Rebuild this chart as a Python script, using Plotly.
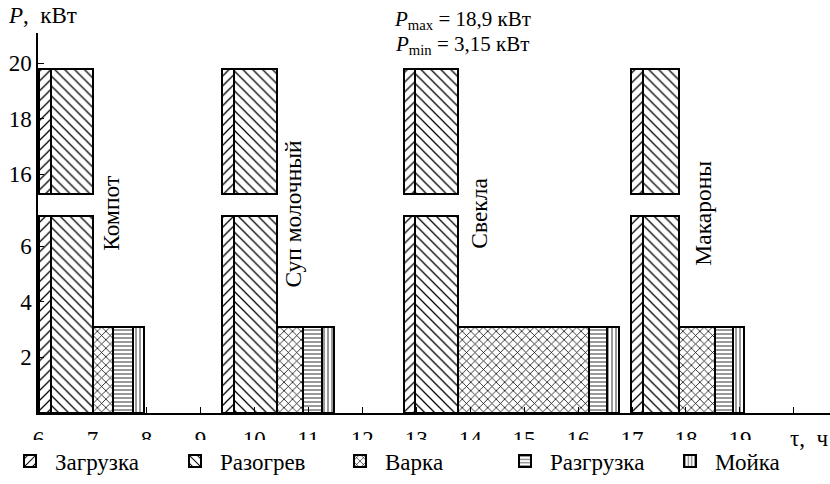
import plotly.graph_objects as go

# ---- data ----
dishes = ["Компот", "Суп молочный", "Свекла", "Макароны"]
phases = ["Загрузка", "Разогрев", "Варка", "Разгрузка", "Мойка"]
load_start = [6.0, 9.40, 12.78, 16.98]
heat_start = [6.24, 9.62, 12.98, 17.20]
cook_start = [7.01, 10.42, 13.78, 17.88]
unload_start = [7.38, 10.91, 16.21, 18.54]
wash_start = [7.75, 11.25, 16.53, 18.88]
wash_end = [7.95, 11.47, 16.75, 19.08]
phase_power = [19.8, 19.8, 3.1, 3.1, 3.1]   # kW shown for each phase
label_x = [7.33, 10.7, 14.15, 18.3]
label_y = [0.525, 0.525, 0.525, 0.525]

# broken axis: lower panel shows 0..7.52, upper 14.93..21.08
low_range = [0, 7.52]
up_range = [14.93, 21.08]
low_cut = 7.1     # where the lower part of a tall bar is cut
up_cut = 15.3     # where the upper part starts

x_ticks = list(range(6, 21))
x_ticktext = [str(v) for v in range(6, 20)] + [" "]

patterns = ["/", "\\", "x", "-", "|"]
pat_size = [7, 7, 6, 4, 4]
pat_solid = [0.18, 0.18, 0.24, 0.2, 0.2]

starts = [load_start, heat_start, cook_start, unload_start, wash_start]
ends = [heat_start, cook_start, unload_start, wash_start, wash_end]

FONT = "Liberation Serif, Times New Roman, Times, serif"
fig = go.Figure()

for i, ph in enumerate(phases):
    s = starts[i]
    e = ends[i]
    centers = [(a + b) / 2 for a, b in zip(s, e)]
    widths = [b - a for a, b in zip(s, e)]
    p = phase_power[i]
    pattern = dict(shape=patterns[i], fgcolor="black", bgcolor="white",
                   size=pat_size[i], solidity=pat_solid[i], fillmode="replace")
    low_h = min(p, low_cut)
    fig.add_trace(go.Bar(
        x=centers, y=[low_h] * len(centers), base=0, width=widths,
        name=ph, legendgroup=ph, showlegend=True,
        marker=dict(color="white", pattern=pattern,
                    line=dict(color="black", width=2)),
        xaxis="x", yaxis="y", hoverinfo="skip"))
    if p > up_cut:
        fig.add_trace(go.Bar(
            x=centers, y=[p - up_cut] * len(centers), base=up_cut, width=widths,
            name=ph, legendgroup=ph, showlegend=False,
            marker=dict(color="white", pattern=pattern,
                        line=dict(color="black", width=2)),
            xaxis="x", yaxis="y2", hoverinfo="skip"))

tfont = dict(family=FONT, size=21, color="black")
bigfont = dict(family=FONT, size=23, color="black")
labfont = dict(family=FONT, size=23.5, color="black")
annotations = []
for d, lx, ly in zip(dishes, label_x, label_y):
    annotations.append(dict(text=d, x=lx, y=ly, xref="x", yref="paper",
                            textangle=-90, showarrow=False, font=labfont))
annotations += [
    dict(text="<i>P</i>,  кВт", x=-0.04, y=1.0, xref="paper", yref="paper",
         xanchor="left", yanchor="middle", yshift=18, showarrow=False, font=bigfont),
    dict(text="<i>P</i><sub>max</sub> = 18,9 кВт", x=13.85, y=1.0,
         xref="x", yref="paper", xanchor="center", yanchor="middle", yshift=13,
         showarrow=False, font=tfont),
    dict(text="<i>P</i><sub>min</sub> = 3,15 кВт", x=13.85, y=1.0,
         xref="x", yref="paper", xanchor="center", yanchor="middle", yshift=-12,
         showarrow=False, font=tfont),
    dict(text="τ,  ч", x=1.0, y=0, xref="paper", yref="paper",
         xanchor="right", yanchor="middle", yshift=-25, showarrow=False, font=bigfont),
]

axis_common = dict(showline=True, linecolor="black", linewidth=1.5,
                   ticks="inside", ticklen=6, tickcolor="black", tickwidth=1,
                   showgrid=False, zeroline=False, automargin=False,
                   tickfont=bigfont)

fig.update_layout(
    width=830, height=484,
    margin=dict(l=38, r=0, t=33, b=71),
    paper_bgcolor="white", plot_bgcolor="white",
    barmode="overlay", bargap=0,
    font=tfont,
    xaxis=dict(range=[5.99, 20.67], tickvals=x_ticks, ticktext=x_ticktext,
               anchor="y", ticklabelstandoff=5, **axis_common),
    yaxis=dict(range=low_range, domain=[0, 0.55], tickvals=[2, 4, 6],
               anchor="x", **axis_common),
    yaxis2=dict(range=up_range, domain=[0.55, 1], tickvals=[16, 18, 20],
                anchor="x", **axis_common),
    legend=dict(orientation="h", x=-0.037, y=-0.07, xanchor="left", yanchor="top",
                entrywidth=110, entrywidthmode="pixels",
                font=bigfont, itemwidth=40, traceorder="normal"),
    annotations=annotations,
)

fig.write_html("out.html", config={"displayModeBar": False},
               post_script="document.body.style.margin='0px';")
